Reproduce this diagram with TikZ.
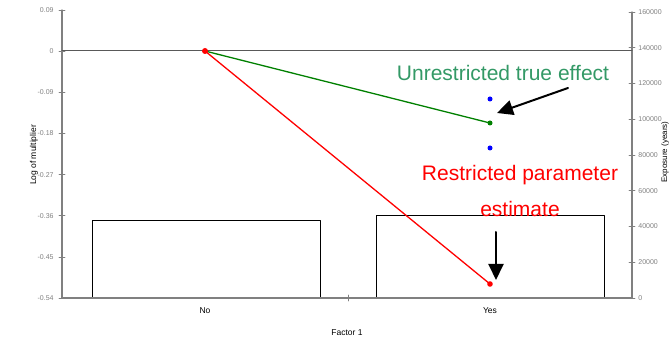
\documentclass[tikz,border=0pt]{standalone}
\usepackage{fontspec}
\setmainfont{Liberation Sans}
\usetikzlibrary{arrows.meta}
\definecolor{seagreen}{RGB}{51,153,102}
\definecolor{linegreen}{RGB}{0,128,0}
\definecolor{axisgray}{RGB}{128,128,128}
\tikzset{
  bar/.style={draw=black, fill=white, line width=0.6pt},
  axis/.style={axisgray, line width=1.3pt},
  tick/.style={axisgray, line width=0.8pt},
  series/.style={line width=1.3pt},
  callout/.style={line width=2pt, -{Triangle[length=16pt,width=15pt]}},
  big/.style={font=\fontsize{21}{36.6}\selectfont},
  label/.style={font=\fontsize{8.5}{10}\selectfont}
}
\begin{document}
\begin{tikzpicture}[x=1pt, y=-1pt, font=\fontsize{7}{8}\selectfont, line join=round, line
	cap=round]
	\useasboundingbox (0,0) rectangle (670,344);
	\path
	(62,298) coordinate (O)
	(632,298) coordinate (E)
	(62,10) coordinate (T)
	(632,12) coordinate (R)
	(62,51) coordinate (Z0)
	(632,51) coordinate (Z1)
	(205,51) coordinate (A)
	(490,123) coordinate (G)
	(490,284) coordinate (B)
	(490,99) coordinate (U1)
	(490,148) coordinate (U2)
	(568,88) coordinate (P1)
	(497,113) coordinate (P2)
	(496,232) coordinate (Q1)
	(496,280) coordinate (Q2)
	;
	% bars
	\draw[bar] (92,298) rectangle (320,220);
	\draw[bar] (376,298) rectangle (604,215.5);
	% axes
	\draw[axis] (T) -- (O) -- (E) -- (R);
	\draw[black!65, line width=1pt] (Z0) -- (Z1);
	\draw[tick] (348,295) -- (348,301);
	\foreach \v/\y [count=\i] in {0.09/10,0/51,-0.09/92.2,-0.18/133.4,-0.27/174.6,-0.36/215.8,-0.45/257,-0.54/298}
	\draw[tick] (65,\y) -- (59,\y) node[anchor=east, inner sep=1pt, xshift=-4pt] (ly\i) {\v};
	\foreach \v/\y [count=\i] in {0/298,20000/262.25,40000/226.5,60000/190.75,80000/155,100000/119.25,120000/83.5,140000/47.75,160000/12}
	\draw[tick] (629,\y) -- (635,\y) node[anchor=west, inner sep=1pt, xshift=2pt] (ry\i) {\v};
	\node[label] (no) at (205,311) {No};
	\node[label] (yes) at (490,311) {Yes};
	\node[label] (xlab) at (347,333) {Factor 1};
	\node[label, rotate=90] (ylab) at (34,155) {Log of multiplier};
	\node[label, rotate=90, anchor=south, inner sep=0.5pt, font=\fontsize{8}{9}\selectfont] (rlab) at (669.5,152) {Exposure (years)};
	% series
	\draw[series, linegreen] (A) -- (G);
	\draw[series, red] (A) -- (B);
	\fill[linegreen] (G) circle (2.5pt);
	\fill[red] (A) circle (3pt);
	\fill[red] (B) circle (2.8pt);
	\foreach \p in {U1,U2}
	\fill[blue] (\p) circle (2.5pt);
	% callouts
	\node[big, seagreen] (true) at (503,73) {Unrestricted true effect};
	\node[big, red, align=center] (est) at (520,191) {Restricted parameter\\estimate};
	\draw[callout] (P1) -- (P2);
	\draw[callout] (Q1) -- (Q2);
\end{tikzpicture}
\end{document}
